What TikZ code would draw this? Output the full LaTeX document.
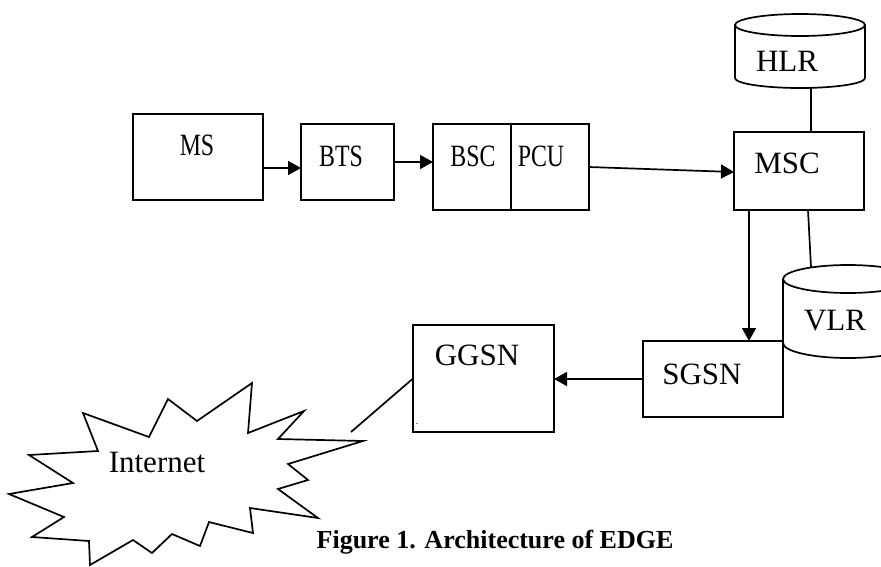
\documentclass[tikz,border=0pt]{standalone}
\usepackage{fontspec}
\setmainfont{Liberation Serif}
\newfontfamily\narrowserif[FakeStretch=0.77]{Liberation Serif}
\usetikzlibrary{arrows.meta}

\begin{document}
\begin{tikzpicture}[x=1pt, y=-1pt, line width=1.7pt, line join=miter,
	>={Triangle[length=13pt,width=14pt]},
	font=\fontsize{31}{36}\selectfont,
	box/.style={draw, rectangle, inner sep=0pt, outer sep=0pt},
	lbl/.style={anchor=base, inner sep=0pt, outer sep=0pt},
	narrow/.style={font=\fontsize{31}{36}\narrowserif}]

	\useasboundingbox (0,0) rectangle (881,566);

	% Radio side
	\node[box, minimum width=130pt, minimum height=86pt] (ms) at (198,157) {};
	\node[box, minimum width=93pt, minimum height=76pt] (bts) at (347.5,162) {};
	\node[box, minimum width=78pt, minimum height=86pt] (bsc) at (472,167) {};
	\node[box, minimum width=78pt, minimum height=86pt] (pcu) at (550,167) {};
	\node[lbl, narrow] (ms-t) at (197,155) {MS};
	\node[lbl, narrow] (bts-t) at (341,166) {BTS};
	\node[lbl, narrow] (bsc-t) at (473,166) {BSC};
	\node[lbl, narrow] (pcu-t) at (541,166) {PCU};

	% Core side
	\node[box, minimum width=130pt, minimum height=78pt] (msc) at (799,171) {};
	\node[box, minimum width=140pt, minimum height=76pt] (sgsn) at (713,379) {};
	\node[box, minimum width=141pt, minimum height=107pt] (ggsn) at (483.5,378.5) {};
	\node[lbl] (msc-t) at (787,173) {MSC};
	\node[lbl] (sgsn-t) at (702,384) {SGSN};
	\node[lbl] (ggsn-t) at (477,365) {GGSN};
	\node[lbl, font=\fontsize{10}{12}\selectfont] (dot) at (417,424) {.};

	% HLR and VLR drums
	\draw (800,25) ellipse [x radius=65, y radius=11];
	\draw (735,25) -- (735,78) arc [start angle=180, end angle=0, x radius=65, y radius=10] -- (865,25);
	\coordinate (hlrbot) at (811,88);
	\node[lbl] (hlr-t) at (787,71) {HLR};

	\draw (848,279) ellipse [x radius=65, y radius=14];
	\draw (783,279) -- (783,343) arc [start angle=180, end angle=0, x radius=65, y radius=15] -- (913,279);
	\coordinate (vlrtop) at (811,267);
	\node[lbl] (vlr-t) at (835,330) {VLR};

	% Internet cloud
	\draw (83,413) -- (149,437) -- (168,399) -- (197,421) -- (252,383) -- (248,433)
		-- (304,411) -- (278,439) -- (363,441) -- (288,464) -- (308,480) -- (278,489)
		-- (318,518) -- (250,508) -- (253,533) -- (209,522) -- (200,546) -- (172,534)
		-- (152,553) -- (133,540) -- (90,565) -- (89,541) -- (32,537) -- (64,517)
		-- (9,494) -- (73,483) -- (29,455) -- (98,451) -- cycle;
	\node[lbl] (net-t) at (157,472) {Internet};
	\coordinate (netend) at (351,432);

	% Links
	\draw[->] ([yshift=-11pt]ms.east) -- ([yshift=-11pt]ms.east -| bts.west);
	\draw[->] (bts.east) -- (bts.east -| bsc.west);
	\draw[->] (pcu.east) -- ([yshift=-1pt]msc.west);
	\draw (hlrbot) -- (hlrbot |- msc.north);
	\draw ([xshift=9pt]msc.south) -- (vlrtop);
	\draw[->] ([xshift=-50pt]msc.south) -- ([xshift=-50pt]msc.south |- sgsn.north);
	\draw[->] (sgsn.west) -- (sgsn.west -| ggsn.east);
	\draw (ggsn.west) -- (netend);

	\node[lbl, font=\fontsize{26}{30}\selectfont\bfseries] (caption) at (495,548) {Figure 1. Architecture of EDGE};

\end{tikzpicture}
\end{document}
